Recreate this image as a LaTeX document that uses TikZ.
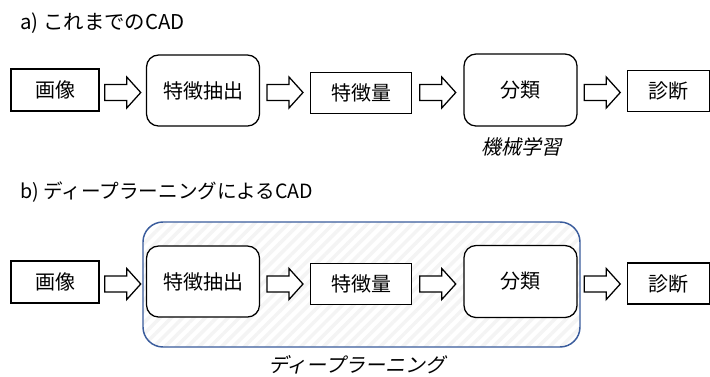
\documentclass[tikz,border=0pt]{standalone}
\usepackage{fontspec}
\setmainfont{Noto Sans CJK JP}
\newfontfamily\jpit[FakeSlant=0.22]{Noto Sans CJK JP}
\usetikzlibrary{calc,patterns.meta}
\definecolor{dlblue}{HTML}{3A5C9C}
\begin{document}
\begin{tikzpicture}[x=0.75pt,y=-0.75pt,
  box/.style={draw, line width=0.95pt, fill=white, inner sep=0pt,
    font=\fontsize{15}{18}\selectfont},
  rbox/.style={box, rounded corners=9pt},
  title/.style={anchor=west, inner sep=0pt, font=\fontsize{15.3}{18}\selectfont},
  itlabel/.style={inner sep=0pt, font=\jpit\fontsize{15}{18}\selectfont},
  pics/barrow/.style={code={
    \draw[line width=0.95pt, fill=white, line join=miter]
      (-18,-8) -- (4,-8) -- (4,-15.5) -- (18,0) -- (4,15.5) -- (4,8) -- (-18,8) -- cycle;}}
]
\fill[white] (0,0) rectangle (710,376);
\useasboundingbox (0,0) rectangle (710,376);

% ---------- a) ----------
\node[title] (ta) at (20,23) {a) これまでのCAD};
\node[box,  minimum width={88*0.75pt}, minimum height={42*0.75pt}] (imgA) at (55,90) {画像};
\node[rbox, minimum width={113*0.75pt}, minimum height={71*0.75pt}] (featA) at (203,90.5) {特徴抽出};
\node[box,  minimum width={101*0.75pt}, minimum height={41*0.75pt}] (vecA) at (361,93) {特徴量};
\node[rbox, minimum width={113*0.75pt}, minimum height={72*0.75pt}] (clsA) at (520.5,90) {分類};
\node[box,  minimum width={82*0.75pt}, minimum height={41*0.75pt}] (diagA) at (668.5,91) {診断};
\node[itlabel] (mlA) at (521,147) {機械学習};

\coordinate (rowA) at (0,92.5);
\coordinate (a1) at ($(imgA.east)!0.5!(featA.west)$);
\coordinate (a2) at ($(featA.east)!0.5!(vecA.west)$);
\coordinate (a3) at ($(vecA.east)!0.5!(clsA.west)$);
\coordinate (a4) at ($(clsA.east)!0.5!(diagA.west)$);
\pic at (a1 |- rowA) {barrow};
\pic at (a2 |- rowA) {barrow};
\pic at (a3 |- rowA) {barrow};
\pic at (a4 |- rowA) {barrow};

% ---------- b) ----------
\node[title, font=\fontsize{14.7}{18}\selectfont] (tb) at (20,192) {b) ディープラーニングによるCAD};
\node[draw=dlblue, line width=1.1pt, rounded corners=15pt, inner sep=0pt,
      pattern={Lines[angle=45,distance=6pt,line width=2.6pt]}, pattern color=gray!9,
      minimum width={437*0.75pt}, minimum height={125*0.75pt}] (dl) at (361.5,284.5) {};
\node[itlabel] (dlL) at (357,365) {ディープラーニング};

\node[box,  minimum width={88*0.75pt}, minimum height={42*0.75pt}] (imgB) at (55,282) {画像};
\node[rbox, minimum width={113*0.75pt}, minimum height={71*0.75pt}] (featB) at (203,281.5) {特徴抽出};
\node[box,  minimum width={101*0.75pt}, minimum height={41*0.75pt}] (vecB) at (361,284) {特徴量};
\node[rbox, minimum width={113*0.75pt}, minimum height={72*0.75pt}] (clsB) at (520.5,281.5) {分類};
\node[box,  minimum width={82*0.75pt}, minimum height={41*0.75pt}] (diagB) at (668.5,283.5) {診断};

\coordinate (rowB) at (0,284);
\coordinate (b1) at ($(imgB.east)!0.5!(featB.west)$);
\coordinate (b2) at ($(featB.east)!0.5!(vecB.west)$);
\coordinate (b3) at ($(vecB.east)!0.5!(clsB.west)$);
\coordinate (b4) at ($(clsB.east)!0.5!(diagB.west)$);
\pic at (b1 |- rowB) {barrow};
\pic at (b2 |- rowB) {barrow};
\pic at (b3 |- rowB) {barrow};
\pic at (b4 |- rowB) {barrow};
\end{tikzpicture}
\end{document}
